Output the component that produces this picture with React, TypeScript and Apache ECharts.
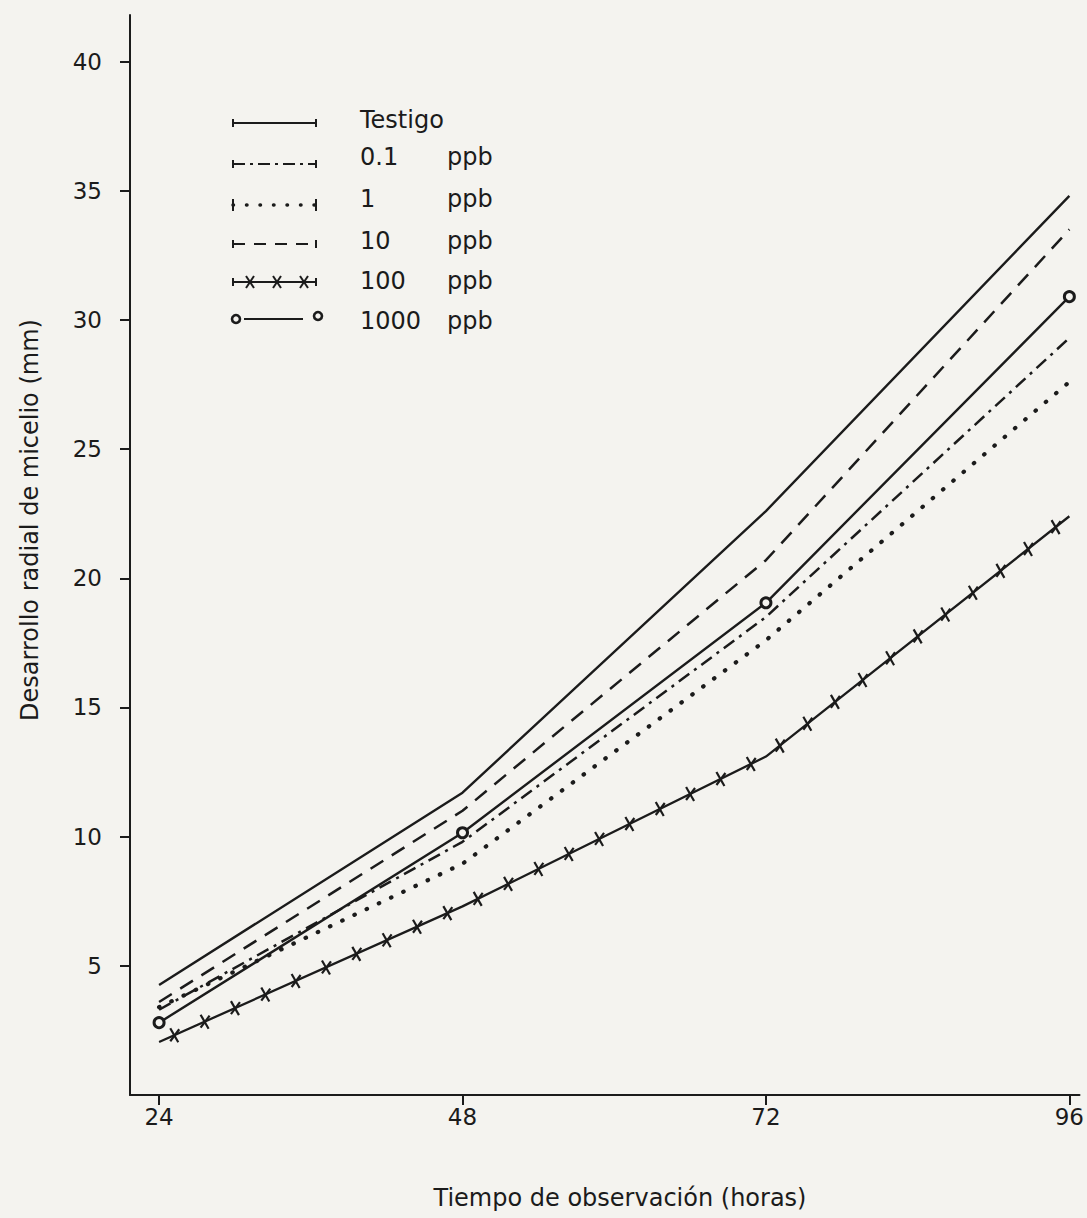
import React, { useEffect, useRef } from "react";
import * as echarts from "echarts";

const hours = [24, 48, 72, 96];
const testigo = [4.26, 11.7, 22.6, 34.8];
const ppb0_1 = [3.3, 9.8, 18.5, 29.3];
const ppb1 = [3.4, 8.95, 17.6, 27.6];
const ppb10 = [3.6, 11.0, 20.7, 33.5];
const ppb100 = [2.05, 7.3, 13.1, 22.4];
const ppb1000 = [2.8, 10.15, 19.05, 30.9];

const xTicks = [24, 48, 72, 96];
const yTicks = [5, 10, 15, 20, 25, 30, 35, 40];

const legendLabels = ["Testigo", "0.1", "1", "10", "100", "1000"];
const legendUnit = "ppb";

const xTitle = "Tiempo de observación (horas)";
const yTitle = "Desarrollo radial de micelio (mm)";

const INK = "#1b1b1b";
const BG = "#f4f3ef";
const FONT = "DejaVu Sans";

function pairs(vals: number[]) {
  return hours.map((h, i) => [h, vals[i]]);
}

function segments(vals: number[]) {
  const out: number[][] = [];
  for (let i = 0; i < hours.length - 1; i++) {
    out.push([hours[i], vals[i], hours[i + 1], vals[i + 1]]);
  }
  return out;
}

function legendGraphics() {
  const rowsLine = [123, 164, 205, 244, 282, 319];
  const rowsText = [120, 157, 199, 241, 281, 321];
  const x0 = 233;
  const x1 = 316;
  const els: any[] = [];
  const dashes: any[] = [null, [12, 5, 3, 5], [0.5, 13], [12, 9], null, null];
  rowsLine.forEach((y, i) => {
    if (i === 5) {
      els.push({ type: "line", shape: { x1: x0 + 11, y1: y, x2: x1 - 13, y2: y }, style: { stroke: INK, lineWidth: 2.2 } });
      els.push({ type: "circle", shape: { cx: x0 + 3, cy: y, r: 4 }, style: { fill: BG, stroke: INK, lineWidth: 2.6 } });
      els.push({ type: "circle", shape: { cx: x1 + 2, cy: y - 3, r: 4 }, style: { fill: BG, stroke: INK, lineWidth: 2.6 } });
    } else {
      els.push({
        type: "line",
        shape: { x1: x0, y1: y, x2: x1, y2: y },
        style: { stroke: INK, lineWidth: i === 2 ? 3.5 : 2.2, lineDash: dashes[i] || undefined, lineCap: i === 2 ? "round" : "butt" },
      });
      const h = i === 2 ? 6 : 4;
      els.push({ type: "line", shape: { x1: x0, y1: y - h, x2: x0, y2: y + h }, style: { stroke: INK, lineWidth: 2 } });
      els.push({ type: "line", shape: { x1: x1, y1: y - h, x2: x1, y2: y + h }, style: { stroke: INK, lineWidth: 2 } });
      if (i === 4) {
        [250, 277, 304].forEach((cx) => {
          els.push({ type: "line", shape: { x1: cx - 4, y1: y - 6, x2: cx + 4, y2: y + 6 }, style: { stroke: INK, lineWidth: 2 } });
          els.push({ type: "line", shape: { x1: cx + 4, y1: y - 6, x2: cx - 4, y2: y + 6 }, style: { stroke: INK, lineWidth: 2 } });
        });
      }
    }
    els.push({
      type: "text",
      x: 360,
      y: rowsText[i],
      style: { text: legendLabels[i], fill: INK, font: `24px "${FONT}"`, textVerticalAlign: "middle" },
    });
    if (i > 0) {
      els.push({
        type: "text",
        x: 447,
        y: rowsText[i],
        style: { text: legendUnit, fill: INK, font: `24px "${FONT}"`, textVerticalAlign: "middle" },
      });
    }
  });
  return els;
}

export default function App() {
  const ref = useRef<HTMLDivElement>(null);
  useEffect(() => {
    document.body.style.margin = "0";
    document.body.style.background = BG;
    const chart = echarts.init(ref.current!, null, { renderer: "svg" });
    const option: any = {
      animation: false,
      backgroundColor: BG,
      textStyle: { fontFamily: FONT, color: INK },
      grid: { left: 130, right: 5, top: 15, bottom: 123 },
      xAxis: {
        type: "value",
        min: 21.7,
        max: 96.8,
        axisLine: { show: true, lineStyle: { color: INK, width: 2 } },
        axisTick: { show: true, length: 10, customValues: xTicks, lineStyle: { color: INK, width: 2 } },
        axisLabel: { customValues: xTicks, fontSize: 23, color: INK, fontFamily: FONT, margin: 10 },
        splitLine: { show: false },
      },
      yAxis: {
        type: "value",
        min: 0,
        max: 41.8,
        axisLine: { show: true, lineStyle: { color: INK, width: 2 } },
        axisTick: { show: true, length: 10, customValues: yTicks, lineStyle: { color: INK, width: 2 } },
        axisLabel: { customValues: yTicks, fontSize: 23, color: INK, fontFamily: FONT, margin: 28 },
        splitLine: { show: false },
      },
      graphic: [
        {
          type: "text",
          x: 620,
          y: 1198,
          style: { text: xTitle, fill: INK, font: `24px "${FONT}"`, textAlign: "center", textVerticalAlign: "middle" },
        },
        {
          type: "text",
          x: 30,
          y: 520,
          rotation: Math.PI / 2,
          style: { text: yTitle, fill: INK, font: `24px "${FONT}"`, textAlign: "center", textVerticalAlign: "middle" },
        },
        ...legendGraphics(),
      ],
      series: [
        {
          name: "Testigo",
          type: "line",
          data: pairs(testigo),
          symbol: "none",
          lineStyle: { color: INK, width: 2.4 },
          silent: true,
        },
        {
          name: "0.1 ppb",
          type: "line",
          data: pairs(ppb0_1),
          symbol: "none",
          lineStyle: { color: INK, width: 2.5, type: [13, 6, 3, 6] },
          silent: true,
        },
        {
          name: "1 ppb",
          type: "line",
          data: pairs(ppb1),
          symbol: "none",
          lineStyle: { color: INK, width: 4.2, type: [0.5, 13], cap: "round" },
          silent: true,
        },
        {
          name: "10 ppb",
          type: "line",
          data: pairs(ppb10),
          symbol: "none",
          lineStyle: { color: INK, width: 2.5, type: [15, 10] },
          silent: true,
        },
        {
          name: "100 ppb",
          type: "line",
          data: pairs(ppb100),
          symbol: "none",
          lineStyle: { color: INK, width: 2.3 },
          silent: true,
        },
        {
          name: "100 ppb marks",
          type: "custom",
          data: segments(ppb100),
          silent: true,
          renderItem: (params: any, api: any) => {
            const p0 = api.coord([api.value(0), api.value(1)]);
            const p1 = api.coord([api.value(2), api.value(3)]);
            const dx = p1[0] - p0[0];
            const dy = p1[1] - p0[1];
            const L = Math.sqrt(dx * dx + dy * dy);
            const n = Math.max(1, Math.round(L / 34));
            const children: any[] = [];
            for (let k = 0; k < n; k++) {
              const t = (k + 0.5) / n;
              const cx = p0[0] + dx * t;
              const cy = p0[1] + dy * t;
              children.push({ type: "line", shape: { x1: cx - 4, y1: cy - 7, x2: cx + 4, y2: cy + 7 }, style: { stroke: INK, lineWidth: 2.2 } });
              children.push({ type: "line", shape: { x1: cx + 5, y1: cy - 6, x2: cx - 4, y2: cy + 6 }, style: { stroke: INK, lineWidth: 2.2 } });
            }
            return { type: "group", children };
          },
        },
        {
          name: "1000 ppb",
          type: "line",
          data: pairs(ppb1000),
          symbol: "circle",
          symbolSize: 10,
          showSymbol: true,
          itemStyle: { color: BG, borderColor: INK, borderWidth: 3 },
          lineStyle: { color: INK, width: 2.4 },
          silent: true,
          z: 5,
        },
      ],
    };
    chart.setOption(option);
    return () => chart.dispose();
  }, []);
  return <div ref={ref} style={{ width: 1087, height: 1218 }} />;
}
